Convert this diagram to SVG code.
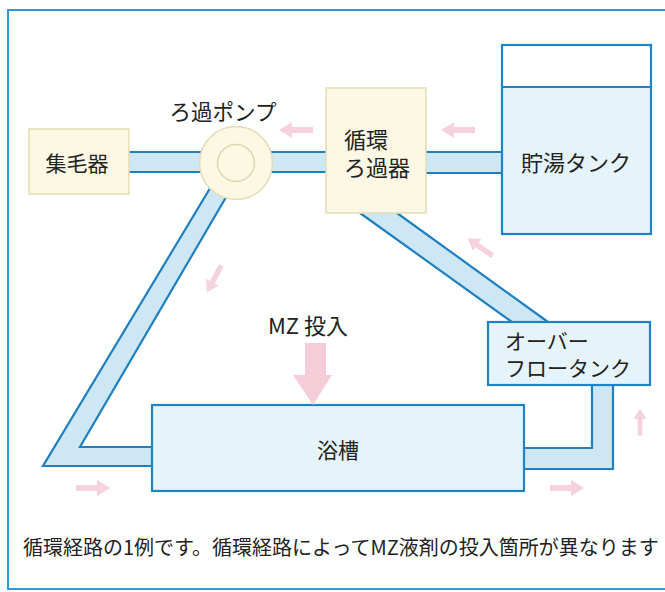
<svg xmlns="http://www.w3.org/2000/svg" width="665" height="592" viewBox="0 0 665 592">
<style>
.t{font-family:"Noto Sans CJK JP","Noto Sans",sans-serif;fill:#222;}
.cream{fill:#fcf8e3;stroke:#e3dcb8;stroke-width:1.5;}
.blue{fill:#e5f4fb;stroke:#1e84c6;stroke-width:2.2;}
.pfill{fill:#cde7f5;stroke:none;}
.pline{fill:none;stroke:#1e80c2;stroke-width:2.2;stroke-linejoin:miter;}
.parrow{fill:#f5d2dd;}
</style>
<defs>
<path id="ar" d="M-17,-3 H4 V-8 L17,0 L4,8 V3 H-17 Z"/>
</defs>
<rect x="8" y="10" width="670" height="579" fill="#fff" stroke="#2a9bd4" stroke-width="2"/>
<g id="connectors">
  <rect class="pfill" x="129" y="152" width="107" height="20"/>
  <line class="pline" x1="129" y1="152" x2="236" y2="152"/>
  <line class="pline" x1="129" y1="172" x2="236" y2="172"/>
  <rect class="pfill" x="236" y="152" width="90" height="20"/>
  <line class="pline" x1="236" y1="152" x2="326" y2="152"/>
  <line class="pline" x1="236" y1="172" x2="326" y2="172"/>
  <rect class="pfill" x="426" y="152" width="76" height="21"/>
  <line class="pline" x1="426" y1="152" x2="502" y2="152"/>
  <line class="pline" x1="426" y1="173" x2="502" y2="173"/>
  <polygon class="pfill" points="218,175 43,466 152,466 152,447 80,447 239,175"/>
  <polyline class="pline" points="218,175 43,466 152,466"/>
  <polyline class="pline" points="239,175 80,447 152,447"/>
  <polygon class="pfill" points="360,213 397,213 548,322 512,322"/>
  <line class="pline" x1="360" y1="213" x2="512" y2="322"/>
  <line class="pline" x1="397" y1="213" x2="548" y2="322"/>
  <polygon class="pfill" points="592,385 613,385 613,469 524,469 524,448 592,448"/>
  <polyline class="pline" points="592,385 592,448 524,448"/>
  <polyline class="pline" points="613,385 613,469 524,469"/>
  <use href="#ar" class="parrow" transform="translate(296,130) rotate(180)"/>
  <use href="#ar" class="parrow" transform="translate(458,130) rotate(180)"/>
  <use href="#ar" class="parrow" transform="translate(214,279) rotate(118) scale(0.9)"/>
  <use href="#ar" class="parrow" transform="translate(480,247) rotate(215) scale(0.9)"/>
  <use href="#ar" class="parrow" transform="translate(93,488)"/>
  <use href="#ar" class="parrow" transform="translate(567,488)"/>
  <use href="#ar" class="parrow" transform="translate(640,422) rotate(-90) scale(0.8)"/>
</g>
<g id="shumoki">
  <rect class="cream" x="29" y="129" width="100" height="65"/>
  <text class="t" x="77" y="171" font-size="21" text-anchor="middle">集毛器</text>
</g>
<g id="pump">
  <circle cx="236" cy="163" r="36.5" fill="#fcf8e3" stroke="#e3dcb8" stroke-width="1.5"/>
  <circle cx="236" cy="163" r="18.5" fill="none" stroke="#ded6b0" stroke-width="1.5"/>
  <text class="t" x="223" y="120" font-size="21.5" text-anchor="middle">ろ過ポンプ</text>
</g>
<g id="filter">
  <rect class="cream" x="326" y="88" width="100" height="125"/>
  <text class="t" font-size="22"><tspan x="344" y="148">循環</tspan><tspan x="344" y="176">ろ過器</tspan></text>
</g>
<g id="storage-tank">
  <rect x="502" y="45" width="149" height="189" fill="#e5f4fb" stroke="none"/>
  <rect x="502" y="45" width="149" height="42" fill="#fff" stroke="none"/>
  <rect x="502" y="45" width="149" height="189" fill="none" stroke="#1e84c6" stroke-width="2.2"/>
  <line x1="502" y1="87" x2="651" y2="87" stroke="#1e84c6" stroke-width="2"/>
  <text class="t" x="576" y="171" font-size="22" text-anchor="middle">貯湯タンク</text>
</g>
<g id="overflow-tank">
  <rect class="blue" x="488" y="322" width="162" height="63"/>
  <text class="t" font-size="21"><tspan x="505" y="349">オーバー</tspan><tspan x="505" y="376">フロータンク</tspan></text>
</g>
<g id="bathtub">
  <rect class="blue" x="152" y="405" width="372" height="86"/>
  <text class="t" x="338" y="458" font-size="21" text-anchor="middle">浴槽</text>
</g>
<g id="mz-input">
  <text class="t" x="268" y="334" font-size="22">MZ 投入</text>
  <path d="M305,343 H326 V375 H332 L313,405 L293,375 H305 Z" fill="#f5cdd9"/>
</g>
<g id="caption">
  <text class="t" x="23" y="555" font-size="20">循環経路の1例です。循環経路によってMZ液剤の投入箇所が異なります</text>
</g>
</svg>
